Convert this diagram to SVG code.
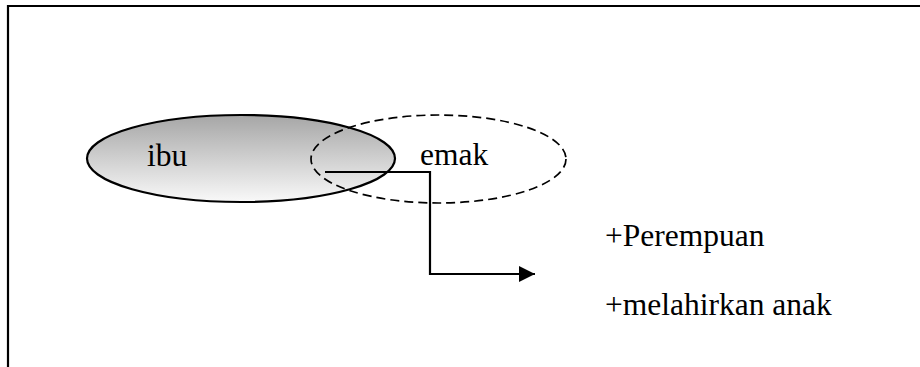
<svg xmlns="http://www.w3.org/2000/svg" width="920" height="367" viewBox="0 0 920 367">
<style>
text{font-family:"Liberation Serif","DejaVu Serif","Times New Roman",serif;font-size:31.5px;fill:#000}
.ln{fill:none;stroke:#000;stroke-width:2.2}
</style>
<defs>
<linearGradient id="g" x1="0" y1="0" x2="0" y2="1">
<stop offset="0" stop-color="#a6a6a6"/>
<stop offset="1" stop-color="#f9f9f9"/>
</linearGradient>
<marker id="arr" markerUnits="userSpaceOnUse" markerWidth="16" markerHeight="16" refX="16" refY="8" orient="auto">
<path d="M0,0 L16,8 L0,16 Z" fill="#000"/>
</marker>
</defs>
<rect width="920" height="367" fill="#fff"/>
<path class="ln" d="M8,367 V6 H920"/>
<g id="ibu">
<ellipse cx="241" cy="158.5" rx="154" ry="43.5" fill="url(#g)" stroke="#000" stroke-width="2.2"/>
<text x="147" y="166" font-family="Liberation Serif, serif">ibu</text>
</g>
<g id="emak">
<ellipse cx="438.5" cy="159" rx="127.5" ry="44" fill="none" stroke="#000" stroke-width="1.7" stroke-dasharray="9,5"/>
<text x="420" y="165" font-family="Liberation Serif, serif">emak</text>
</g>
<g id="connectors">
<path class="ln" d="M325,172 H430 V274 H535" marker-end="url(#arr)"/>
</g>
<g id="attrs">
<text x="605" y="246" font-family="Liberation Serif, serif">+Perempuan</text>
<text x="605" y="315" font-family="Liberation Serif, serif">+melahirkan anak</text>
</g>
</svg>
